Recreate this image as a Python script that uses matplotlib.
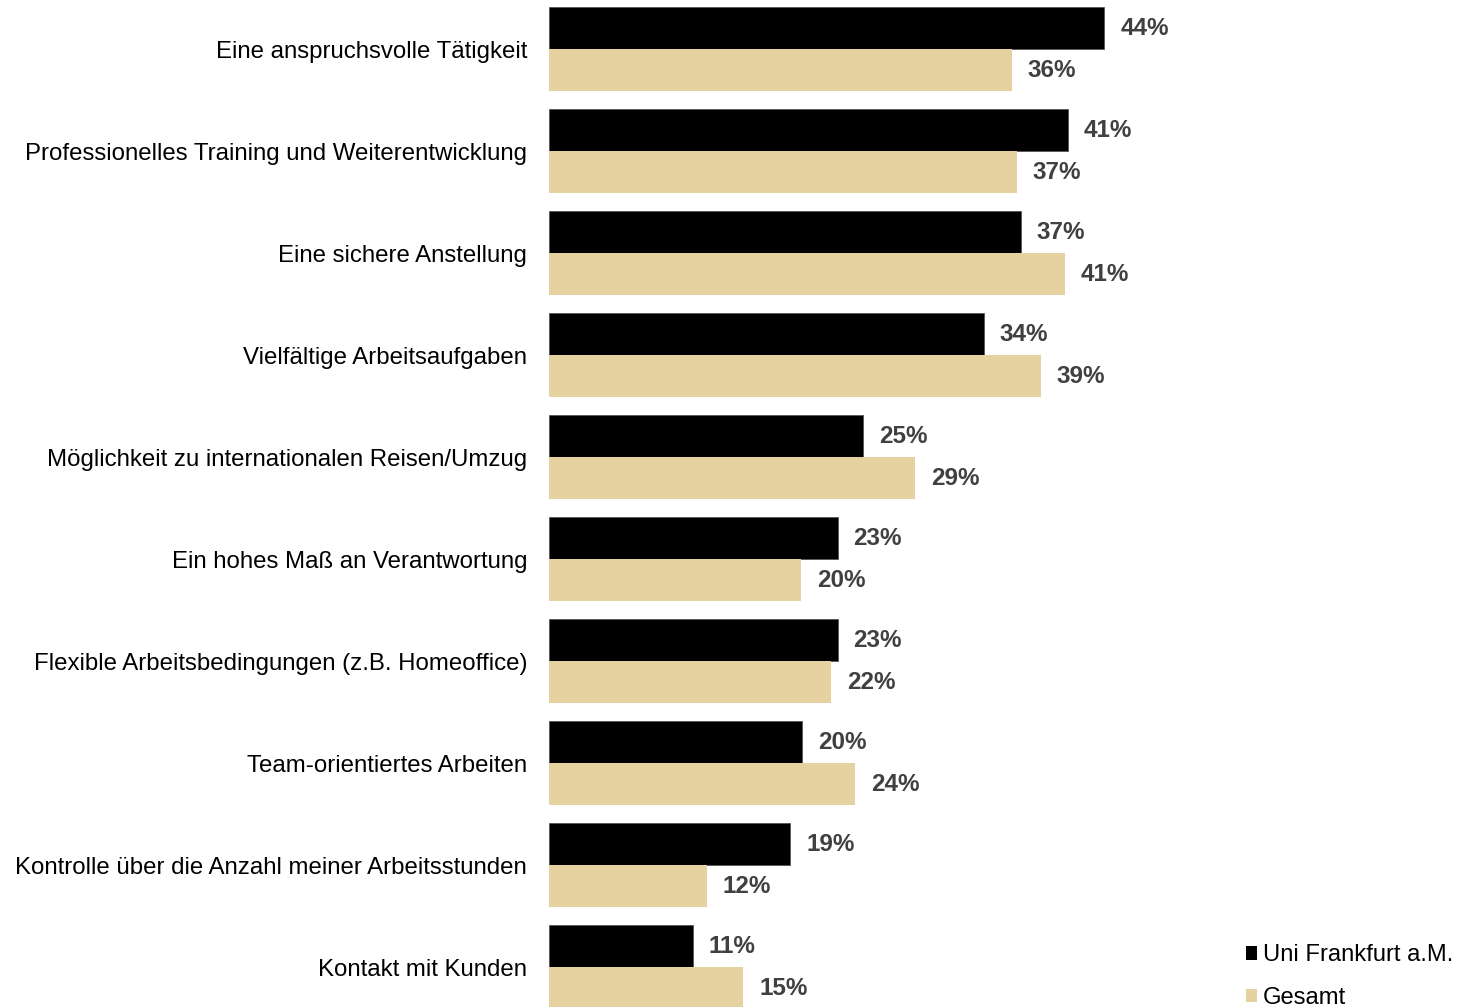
import matplotlib
matplotlib.use("Agg")
import matplotlib.pyplot as plt
import numpy as np
from matplotlib.patches import Patch

categories = [
    "Eine anspruchsvolle Tätigkeit",
    "Professionelles Training und Weiterentwicklung",
    "Eine sichere Anstellung",
    "Vielfältige Arbeitsaufgaben",
    "Möglichkeit zu internationalen Reisen/Umzug",
    "Ein hohes Maß an Verantwortung",
    "Flexible Arbeitsbedingungen (z.B. Homeoffice)",
    "Team-orientiertes Arbeiten",
    "Kontrolle über die Anzahl meiner Arbeitsstunden",
    "Kontakt mit Kunden",
]
uni_frankfurt = [43.7, 40.8, 37.1, 34.2, 24.7, 22.7, 22.7, 19.9, 19.0, 11.3]
gesamt = [36.4, 36.8, 40.6, 38.7, 28.8, 19.8, 22.2, 24.1, 12.4, 15.3]
series_names = ["Uni Frankfurt a.M.", "Gesamt"]

plt.rcParams['font.family'] = ['Liberation Sans', 'DejaVu Sans']

W, H = 1457, 1007
fig = plt.figure(figsize=(W / 100, H / 100), dpi=100)
ax = fig.add_axes([549 / W, 0, 1 - 549 / W, 1])

black = "#000000"
tan = "#E6D2A0"
lblc = "#404040"
bh = 0.412
y = np.arange(len(categories))
ax.barh(y - bh / 2, uni_frankfurt, height=bh, color=black, edgecolor="#555555", linewidth=0.6)
ax.barh(y + bh / 2, gesamt, height=bh, color=tan, linewidth=0)

px_per_pct = 12.71
off = 16 / px_per_pct
for i in range(len(categories)):
    ax.text(uni_frankfurt[i] + off, y[i] - bh / 2, f"{uni_frankfurt[i]:.0f}%", va="center", ha="left",
            fontsize=17.5, fontweight="bold", color=lblc)
    ax.text(gesamt[i] + off, y[i] + bh / 2, f"{gesamt[i]:.0f}%", va="center", ha="left",
            fontsize=17.5, fontweight="bold", color=lblc)

top = -bh - 7 / 102
ax.set_ylim(top + H / 102, top)
ax.set_xlim(0, (W - 549) / px_per_pct)
ax.set_yticks(y)
ax.set_yticklabels(categories, fontsize=17.3, color="#000000")
ax.tick_params(axis="y", length=0, pad=15.8)
ax.set_xticks([])
for s in ax.spines.values():
    s.set_visible(False)

handles = [Patch(facecolor=black, edgecolor="none"), Patch(facecolor=tan, edgecolor="none")]
fig.legend(handles, series_names, loc="lower left", bbox_to_anchor=(1229 / W, -19 / H),
           frameon=False, fontsize=17.1, handlelength=0.47, handleheight=0.47,
           handletextpad=0.25, labelspacing=0.88, borderpad=0.2)

fig.savefig("out.png", dpi=100)
